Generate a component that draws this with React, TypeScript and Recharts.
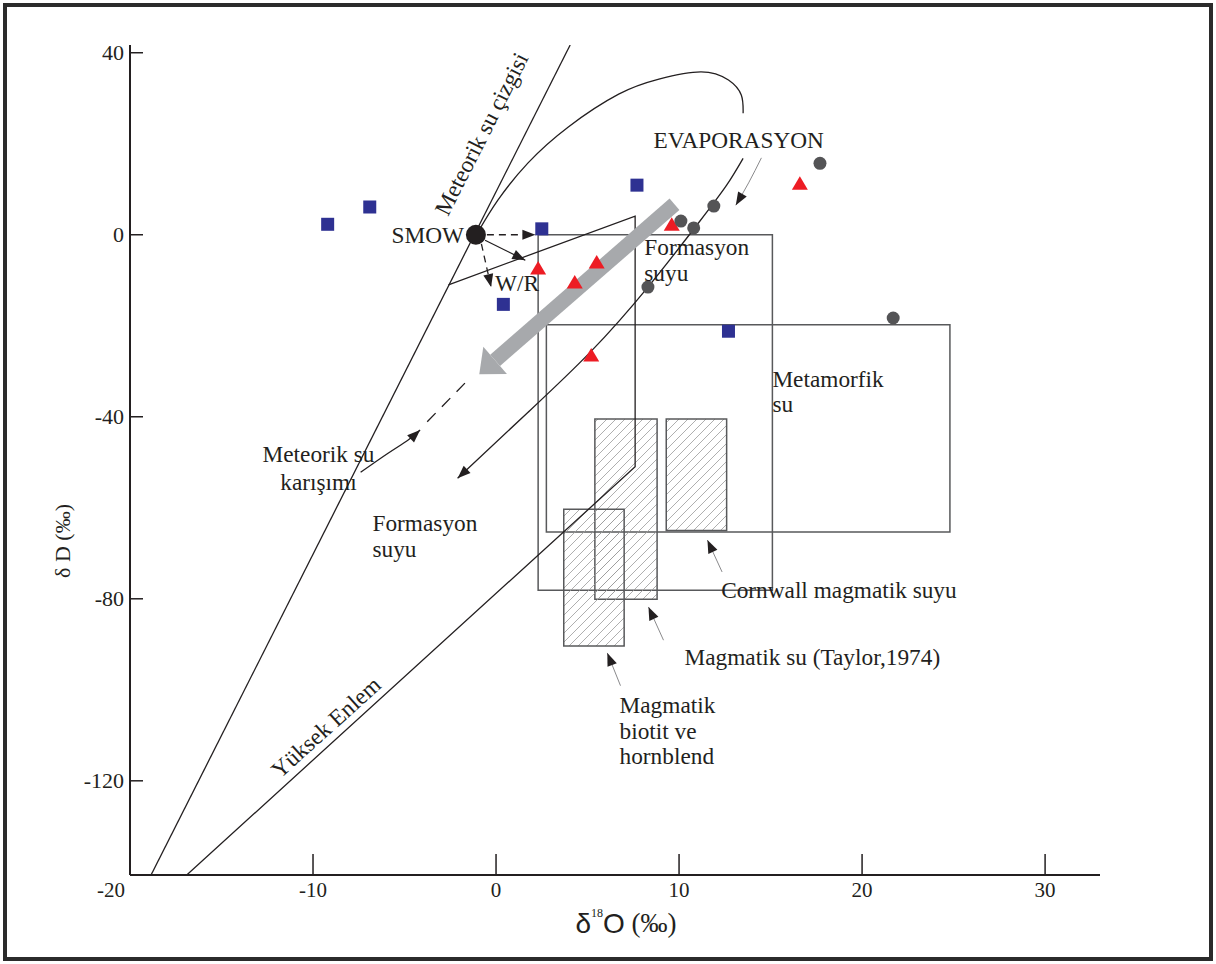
import React from 'react';
import { ComposedChart, XAxis, YAxis, Line, Scatter, ReferenceArea } from 'recharts';

const SERIF = '"Liberation Serif", "DejaVu Serif", serif';
const SANS = '"Liberation Sans", Arial, sans-serif';
const INK = '#231f20';

const xTicks = [-20, -10, 0, 10, 20, 30];
const yTicks = [40, 0, -40, -80, -120];

// sample points (δ18O, δD)
const blueSquares = [
    { x: -9.2, y: 2.3 }, { x: -6.9, y: 6.1 }, { x: 0.4, y: -15.3 },
    { x: 2.5, y: 1.3 }, { x: 7.7, y: 10.9 }, { x: 12.7, y: -21.2 },
];
const redTriangles = [
    { x: 2.3, y: -7.3 }, { x: 4.3, y: -10.4 }, { x: 5.5, y: -6.0 },
    { x: 5.2, y: -26.4 }, { x: 9.6, y: 2.3 }, { x: 16.6, y: 11.3 },
];
const grayCircles = [
    { x: 8.3, y: -11.5 }, { x: 10.1, y: 3.0 }, { x: 10.8, y: 1.5 },
    { x: 11.9, y: 6.3 }, { x: 17.7, y: 15.7 }, { x: 21.7, y: -18.3 },
];
const smowPoint = [{ x: -1.1, y: 0 }];

// reference lines
const meteoricWaterLine = [{ x: -18.85, y: -140.7 }, { x: 4.05, y: 41.7 }];
const highLatitudeLine = [
    { x: -16.9, y: -140.7 }, { x: 7.6, y: -51.0 }, { x: 7.6, y: 4.1 }, { x: -2.6, y: -11.0 },
];
const evaporationUpper = [
    { x: -1.0, y: 0.5 }, { x: 0.1, y: 7.6 }, { x: 1.75, y: 15.8 }, { x: 3.95, y: 23.7 },
    { x: 6.7, y: 30.9 }, { x: 8.9, y: 34.2 }, { x: 11.2, y: 35.8 }, { x: 12.7, y: 34.0 },
    { x: 13.4, y: 30.7 }, { x: 13.5, y: 26.7 },
];
const evaporationLower = [
    { x: 13.5, y: 16.8 }, { x: 12.6, y: 10.9 }, { x: 11.1, y: 2.8 }, { x: 8.3, y: -11.5 },
    { x: 5.15, y: -25.8 }, { x: 1.75, y: -39.0 }, { x: -2.1, y: -53.5 },
];
const mixingDashed = [{ x: -1.7, y: -32.6 }, { x: -4.1, y: -42.5 }];
const mixingArrow = [
    { x: -7.4, y: -52.2 }, { x: -5.9, y: -48.0 }, { x: -4.8, y: -45.1 }, { x: -4.15, y: -42.9 },
];
const smowRight = [{ x: -0.5, y: 0 }, { x: 2.15, y: 0 }];
const smowWR = [{ x: -0.6, y: -1.2 }, { x: 1.6, y: -5.6 }];
const smowDown = [{ x: -0.8, y: -2.0 }, { x: -0.27, y: -11.5 }];
const trendArrow = [{ x: 9.75, y: 6.7 }, { x: -0.05, y: -27.6 }];
const evapPointer = [{ x: 14.5, y: 16.9 }, { x: 13.8, y: 11.4 }, { x: 13.1, y: 6.5 }];
const cornwallPointer = [{ x: 12.35, y: -74.1 }, { x: 11.55, y: -67.1 }];
const taylorPointer = [{ x: 9.15, y: -89.1 }, { x: 8.33, y: -81.8 }];
const biotitePointer = [{ x: 6.8, y: -99.1 }, { x: 6.08, y: -91.9 }];

// water fields
const plainBoxes = [
    { name: 'Formasyon suyu', x1: 2.3, x2: 15.1, y1: -78.1, y2: 0 },
    { name: 'Metamorfik su', x1: 2.75, x2: 24.8, y1: -65.3, y2: -19.8 },
];
const hatchedBoxes = [
    { name: 'Magmatik su (Taylor,1974)', x1: 5.4, x2: 8.8, y1: -80.1, y2: -40.5 },
    { name: 'Cornwall magmatik suyu', x1: 9.3, x2: 12.6, y1: -65.0, y2: -40.5 },
    { name: 'Magmatik biotit ve hornblend', x1: 3.7, x2: 7.0, y1: -90.4, y2: -60.3 },
];

// annotations
const labels = [
    { x: -1.75, y: 0, text: 'SMOW', anchor: 'end' },
    { x: -0.05, y: -10.6, text: 'W/R', anchor: 'start' },
    { x: 8.6, y: 20.8, text: 'EVAPORASYON', anchor: 'start' },
    { x: 8.1, y: -2.7, text: 'Formasyon', anchor: 'start' },
    { x: 8.1, y: -8.4, text: 'suyu', anchor: 'start' },
    { x: 15.1, y: -31.6, text: 'Metamorfik', anchor: 'start' },
    { x: 15.1, y: -37.3, text: 'su', anchor: 'start' },
    { x: -9.7, y: -48.2, text: 'Meteorik su', anchor: 'middle' },
    { x: -9.7, y: -54.3, text: 'karışımı', anchor: 'middle' },
    { x: -6.75, y: -63.4, text: 'Formasyon', anchor: 'start' },
    { x: -6.75, y: -69.1, text: 'suyu', anchor: 'start' },
    { x: 12.3, y: -78.1, text: 'Cornwall magmatik suyu', anchor: 'start' },
    { x: 10.3, y: -92.8, text: 'Magmatik su (Taylor,1974)', anchor: 'start' },
    { x: 6.75, y: -103.4, text: 'Magmatik', anchor: 'start' },
    { x: 6.75, y: -109.1, text: 'biotit ve', anchor: 'start' },
    { x: 6.75, y: -114.6, text: 'hornblend', anchor: 'start' },
    { x: -0.8, y: 22.2, text: 'Meteorik su çizgisi', anchor: 'middle', angle: -63 },
    { x: -9.3, y: -108.2, text: 'Yüksek Enlem', anchor: 'middle', angle: -42 },
];

const Square = ({ cx, cy }: any) => <rect x={cx - 6.5} y={cy - 6.5} width={13} height={13} fill="#2e3192" />;
const Triangle = ({ cx, cy }: any) => (
    <path d={`M${cx},${cy - 7} L${cx + 8},${cy + 6.5} L${cx - 8},${cy + 6.5} Z`} fill="#ed1c24" />
);
const Dot = ({ cx, cy }: any) => <circle cx={cx} cy={cy} r={6.5} fill="#545456" />;
const SmowDot = ({ cx, cy }: any) => <circle cx={cx} cy={cy} r={10} fill={INK} />;

const TextMark = ({ cx, cy, payload }: any) => (
    <text
        x={cx}
        y={cy}
        textAnchor={payload.anchor}
        dominantBaseline="central"
        transform={payload.angle ? `rotate(${payload.angle} ${cx} ${cy})` : undefined}
        fontFamily={SERIF}
        fontSize={23.3}
        fill={INK}
    >
        {payload.text}
    </text>
);

const XTick = ({ x, y, payload }: any) => (
    <g>
        {payload.value !== -20 && <line x1={x} y1={y} x2={x} y2={y - 21} stroke={INK} strokeWidth={1.5} />}
        <text
            x={payload.value === -20 ? x - 19 : x}
            y={y + 15}
            textAnchor="middle"
            dominantBaseline="central"
            fontFamily={SERIF}
            fontSize={21}
            fill={INK}
        >
            {payload.value}
        </text>
    </g>
);

const YTick = ({ x, y, payload }: any) => (
    <g>
        <line x1={x} y1={y} x2={x + 13} y2={y} stroke={INK} strokeWidth={1.5} />
        <text x={x - 6} y={y} textAnchor="end" dominantBaseline="central" fontFamily={SERIF} fontSize={22} fill={INK}>
            {payload.value}
        </text>
    </g>
);

const XTitle = ({ viewBox }: any) => {
    const cx = viewBox.x + viewBox.width / 2 + 11;
    return (
        <text x={cx} y={viewBox.y + 48} textAnchor="middle" dominantBaseline="central" fill={INK}>
            <tspan fontFamily={SANS} fontSize={28}>δ</tspan>
            <tspan fontFamily={SERIF} fontSize={12} dy={-10}>18</tspan>
            <tspan fontFamily={SANS} fontSize={28} dy={10}>O</tspan>
            <tspan fontFamily={SERIF} fontSize={27}>{' (‰)'}</tspan>
        </text>
    );
};

const YTitle = ({ viewBox }: any) => {
    const x = viewBox.x - 8;
    const y = viewBox.y + 496;
    return (
        <text
            x={x}
            y={y}
            textAnchor="middle"
            dominantBaseline="central"
            transform={`rotate(-90 ${x} ${y})`}
            fontFamily={SERIF}
            fontSize={22}
            fill={INK}
        >
            δ D (‰)
        </text>
    );
};

const lineBase = {
    dataKey: 'y',
    dot: false,
    activeDot: false,
    isAnimationActive: false,
    legendType: 'none' as const,
};

export default function App() {
    return (
        <div style={{ position: 'absolute', left: 0, top: 0, width: 1216, height: 964, background: '#fff' }}>
            <div
                style={{
                    position: 'absolute', left: 3, top: 3, width: 1210, height: 958,
                    border: '4px solid #2b2b2b', boxSizing: 'border-box',
                }}
            />
            <div style={{ position: 'absolute', left: 0, top: 0 }}>
                <ComposedChart width={1216} height={964} margin={{ top: 45, right: 116, bottom: 39, left: 70 }}>
                    <defs>
                        <pattern id="hatch" patternUnits="userSpaceOnUse" width="9" height="9">
                            <path d="M0,9 L9,0 M-3,3 L3,-3 M6,12 L12,6" stroke="#9a9a9a" strokeWidth="0.8" />
                        </pattern>
                        <marker id="headBlack" markerUnits="userSpaceOnUse" markerWidth="13" markerHeight="10"
                            refX="13" refY="5" orient="auto" overflow="visible">
                            <path d="M0,0 L13,5 L0,10 Z" fill={INK} />
                        </marker>
                        <marker id="headGray" markerUnits="userSpaceOnUse" markerWidth="21" markerHeight="36"
                            refX="0" refY="18" orient="auto" overflow="visible">
                            <path d="M0,0 L21,18 L0,36 Z" fill="#a7a9ac" />
                        </marker>
                    </defs>
                    <XAxis
                        type="number"
                        dataKey="x"
                        domain={[-20, 33]}
                        ticks={xTicks}
                        allowDataOverflow
                        height={50}
                        tickSize={0}
                        tickMargin={0}
                        tickLine={false}
                        axisLine={{ stroke: INK, strokeWidth: 2 }}
                        tick={<XTick />}
                        label={{ content: <XTitle /> } as any}
                    />
                    <YAxis
                        type="number"
                        dataKey="y"
                        domain={[-140.7, 41.7]}
                        ticks={yTicks}
                        allowDataOverflow
                        width={60}
                        tickSize={0}
                        tickMargin={0}
                        tickLine={false}
                        axisLine={{ stroke: INK, strokeWidth: 2 }}
                        tick={<YTick />}
                        label={{ content: <YTitle /> } as any}
                    />

                    {plainBoxes.map((b) => (
                        <ReferenceArea key={b.name} x1={b.x1} x2={b.x2} y1={b.y1} y2={b.y2}
                            fill="none" stroke="#58595b" strokeWidth={1.5} ifOverflow="visible" />
                    ))}
                    {hatchedBoxes.map((b) => (
                        <ReferenceArea key={b.name} x1={b.x1} x2={b.x2} y1={b.y1} y2={b.y2}
                            fill="url(#hatch)" fillOpacity={1} stroke="#58595b" strokeWidth={1.5} ifOverflow="visible" />
                    ))}

                    <Line {...lineBase} data={meteoricWaterLine} type="linear" stroke={INK} strokeWidth={1.3} />
                    <Line {...lineBase} data={highLatitudeLine} type="linear" stroke={INK} strokeWidth={1.3} />
                    <Line {...lineBase} data={evaporationUpper} type="natural" stroke={INK} strokeWidth={1.3} />
                    <Line {...lineBase} data={evaporationLower} type="natural" stroke={INK} strokeWidth={1.3}
                        markerEnd="url(#headBlack)" />
                    <Line {...lineBase} data={mixingDashed} type="linear" stroke={INK} strokeWidth={1.3}
                        strokeDasharray="12 9" />
                    <Line {...lineBase} data={mixingArrow} type="natural" stroke={INK} strokeWidth={1.3}
                        markerEnd="url(#headBlack)" />
                    <Line {...lineBase} data={smowRight} type="linear" stroke={INK} strokeWidth={1.3}
                        strokeDasharray="7 5" markerEnd="url(#headBlack)" />
                    <Line {...lineBase} data={smowWR} type="linear" stroke={INK} strokeWidth={1.3}
                        markerEnd="url(#headBlack)" />
                    <Line {...lineBase} data={smowDown} type="linear" stroke={INK} strokeWidth={1.3}
                        strokeDasharray="7 5" markerEnd="url(#headBlack)" />
                    <Line {...lineBase} data={evapPointer} type="natural" stroke="#8a8a8c" strokeWidth={1}
                        markerEnd="url(#headBlack)" />
                    <Line {...lineBase} data={cornwallPointer} type="linear" stroke="#8a8a8c" strokeWidth={1}
                        markerEnd="url(#headBlack)" />
                    <Line {...lineBase} data={taylorPointer} type="linear" stroke="#8a8a8c" strokeWidth={1}
                        markerEnd="url(#headBlack)" />
                    <Line {...lineBase} data={biotitePointer} type="linear" stroke="#8a8a8c" strokeWidth={1}
                        markerEnd="url(#headBlack)" />
                    <Line {...lineBase} data={trendArrow} type="linear" stroke="#a7a9ac" strokeWidth={15}
                        markerEnd="url(#headGray)" />

                    <Scatter data={blueSquares} dataKey="y" shape={<Square />} isAnimationActive={false} legendType="none" />
                    <Scatter data={redTriangles} dataKey="y" shape={<Triangle />} isAnimationActive={false} legendType="none" />
                    <Scatter data={grayCircles} dataKey="y" shape={<Dot />} isAnimationActive={false} legendType="none" />
                    <Scatter data={smowPoint} dataKey="y" shape={<SmowDot />} isAnimationActive={false} legendType="none" />
                    <Scatter data={labels} dataKey="y" shape={<TextMark />} isAnimationActive={false} legendType="none" />
                </ComposedChart>
            </div>
        </div>
    );
}
